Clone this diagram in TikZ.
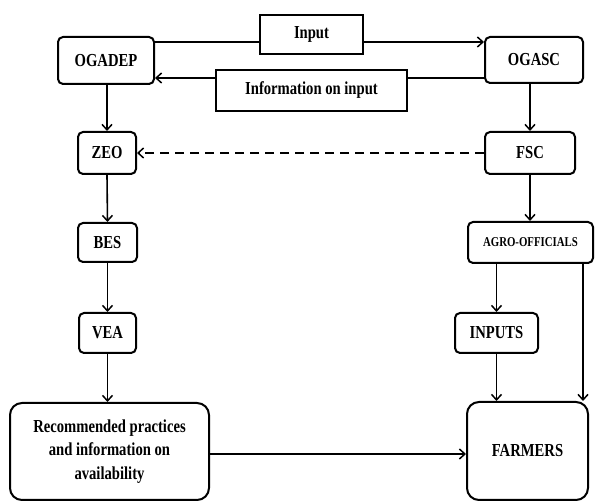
\documentclass[tikz,border=0pt]{standalone}
\usepackage{fontspec}
\setmainfont{Liberation Serif}[FakeStretch=0.8]
\usetikzlibrary{arrows.meta}
\begin{document}
\begin{tikzpicture}[x=1pt,y=-1pt,
  box/.style={draw,line width=2pt,rounded corners=5pt,align=center,inner sep=0pt,font=\fontsize{18.3}{23.5}\selectfont\bfseries},
  bigbox/.style={box,rounded corners=12pt},
  sqbox/.style={box,rounded corners=0pt},
  conn/.style={line width=1.6pt},
  arr/.style={conn,-{Straight Barb[length=5.5pt,width=10pt,line width=1.5pt]}},
  darr/.style={arr,dash pattern=on 9pt off 6pt}]
\useasboundingbox (0,0) rectangle (598,502);
\node[box,minimum width=96pt,minimum height=47pt] (ogadep) at (106,60.5) {OGADEP};
\node[sqbox,minimum width=103pt,minimum height=39pt] (input) at (311.5,34.5) {Input};
\node[sqbox,minimum width=191pt,minimum height=41pt] (info) at (311.5,90.5) {Information on input};
\node[box,minimum width=98pt,minimum height=46pt] (ogasc) at (534,60) {OGASC};
\node[box,minimum width=58pt,minimum height=42pt] (zeo) at (107,153) {ZEO};
\node[box,minimum width=90pt,minimum height=42pt] (fsc) at (530,153) {FSC};
\node[box,minimum width=59pt,minimum height=39pt] (bes) at (107.5,242.5) {BES};
\node[box,minimum width=57pt,minimum height=40pt] (vea) at (107.5,333) {VEA};
\node[box,minimum width=125pt,minimum height=41pt,font=\fontsize{13.5}{15}\selectfont\bfseries] (agro) at (530.5,242.5) {AGRO-OFFICIALS};
\node[box,minimum width=83pt,minimum height=40pt] (inputs) at (496.5,333) {INPUTS};
\node[bigbox,minimum width=199pt,minimum height=97pt] (rec) at (109.5,451.5) {Recommended practices\\and information on\\availability};
\node[bigbox,minimum width=121pt,minimum height=98pt] (farm) at (527.5,451) {FARMERS};
\coordinate (ly1) at (0,42);
\coordinate (ly2) at (0,78);
\coordinate (ly3) at (0,454);
\coordinate (lx1) at (583,0);
\draw[conn] (ogadep.east |- ly1) -- (input.west |- ly1);
\draw[arr] (input.east |- ly1) -- (ogasc.west |- ly1);
\draw[conn] (ogasc.west |- ly2) -- (info.east |- ly2);
\draw[arr] (info.west |- ly2) -- (ogadep.east |- ly2);
\draw[arr] (ogadep.south -| zeo.north) -- (zeo.north);
\draw[arr] (ogasc.south -| fsc.north) -- (fsc.north);
\draw[darr] (fsc.west) -- (zeo.east);
\draw[arr] (zeo.south) -- (bes.north);
\draw[arr] (bes.south) -- (vea.north);
\draw[arr] (vea.south) -- (vea.south |- rec.north);
\draw[arr] (fsc.south) -- (fsc.south |- agro.north);
\draw[arr] (agro.south -| inputs.north) -- (inputs.north);
\draw[arr] (inputs.south) -- (inputs.south |- farm.north);
\draw[arr] (agro.south -| lx1) -- (farm.north -| lx1);
\draw[arr] (rec.east |- ly3) -- (farm.west |- ly3);
\end{tikzpicture}
\end{document}
